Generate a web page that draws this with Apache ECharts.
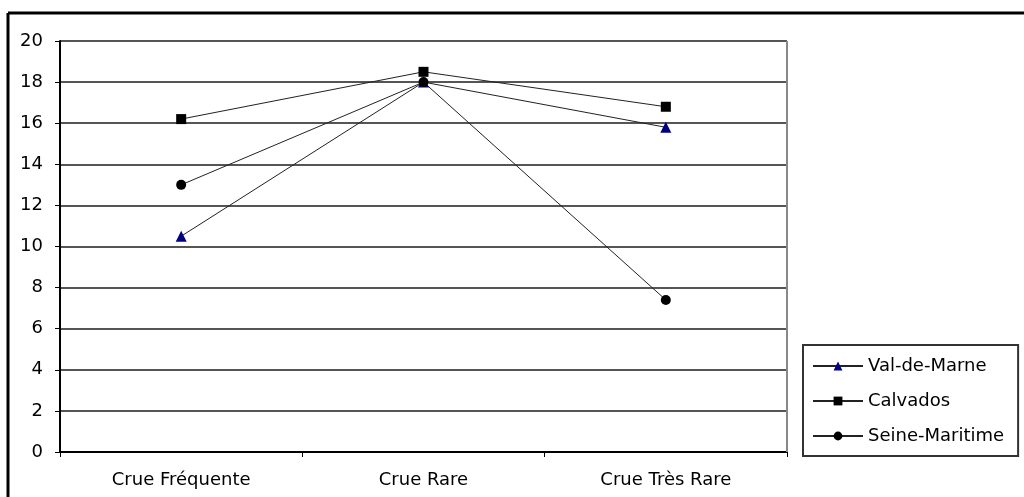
<!DOCTYPE html>
<html>
<head>
<meta charset="utf-8">
<script src="https://cdn.jsdelivr.net/npm/echarts@6/dist/echarts.min.js"></script>
<style>
html,body{margin:0;padding:0;background:#fff;}
#chart{width:1024px;height:497px;}
</style>
</head>
<body>
<div id="chart"></div>
<script>
const categories = ['Crue Fréquente', 'Crue Rare', 'Crue Très Rare'];
const valDeMarne = [10.5, 18.0, 15.8];
const calvados = [16.2, 18.5, 16.8];
const seineMaritime = [13.0, 18.0, 7.4];
const seriesNames = ['Val-de-Marne', 'Calvados', 'Seine-Maritime'];

const chart = echarts.init(document.getElementById('chart'));
const font = '"DejaVu Sans", sans-serif';
function mk(name, data, symbol, size, color) {
  return {
    name: name, type: 'line', data: data,
    symbol: symbol, symbolSize: size,
    lineStyle: {color: '#222', width: 1},
    itemStyle: {color: color, borderWidth: 0},
    emphasis: {disabled: true},
    z: 5
  };
}
chart.setOption({
  animation: false,
  backgroundColor: '#fff',
  graphic: [
    {type: 'line', shape: {x1: 8, y1: 13, x2: 1024, y2: 13}, style: {stroke: '#000', lineWidth: 3}},
    {type: 'line', shape: {x1: 8, y1: 13, x2: 8, y2: 497}, style: {stroke: '#000', lineWidth: 3}}
  ],
  grid: {left: 60, right: 237, top: 41, bottom: 45},
  legend: {
    orient: 'vertical',
    left: 803, top: 345,
    padding: [12, 14, 11, 9],
    itemWidth: 50, itemHeight: 11,
    itemGap: 17,
    borderColor: '#333', borderWidth: 2,
    textStyle: {fontFamily: font, fontSize: 18, color: '#000'},
    data: seriesNames
  },
  xAxis: {
    type: 'category',
    data: categories,
    boundaryGap: true,
    axisLine: {lineStyle: {color: '#000', width: 2}},
    axisTick: {show: true, length: 5, lineStyle: {color: '#000', width: 1}},
    axisLabel: {fontFamily: font, fontSize: 18, color: '#000', margin: 19},
    splitLine: {show: false}
  },
  yAxis: {
    type: 'value',
    min: 0, max: 20, interval: 2,
    axisLine: {show: true, lineStyle: {color: '#000', width: 2}},
    axisTick: {show: true, length: 5, lineStyle: {color: '#000', width: 1}},
    axisLabel: {fontFamily: font, fontSize: 18, color: '#000', margin: 17},
    splitLine: {show: true, lineStyle: {color: '#555', width: 2}}
  },
  series: [
    mk(seriesNames[0], valDeMarne, 'triangle', 11, '#000080'),
    mk(seriesNames[1], calvados, 'rect', 10, '#000'),
    mk(seriesNames[2], seineMaritime, 'circle', 10, '#000'),
    {
      type: 'line', data: [], silent: true,
      markLine: {
        silent: true, symbol: 'none', label: {show: false},
        lineStyle: {color: '#888', width: 2, type: 'solid'},
        data: [[{x: 787, y: 41}, {x: 787, y: 452}]]
      }
    }
  ]
});
</script>
</body>
</html>
